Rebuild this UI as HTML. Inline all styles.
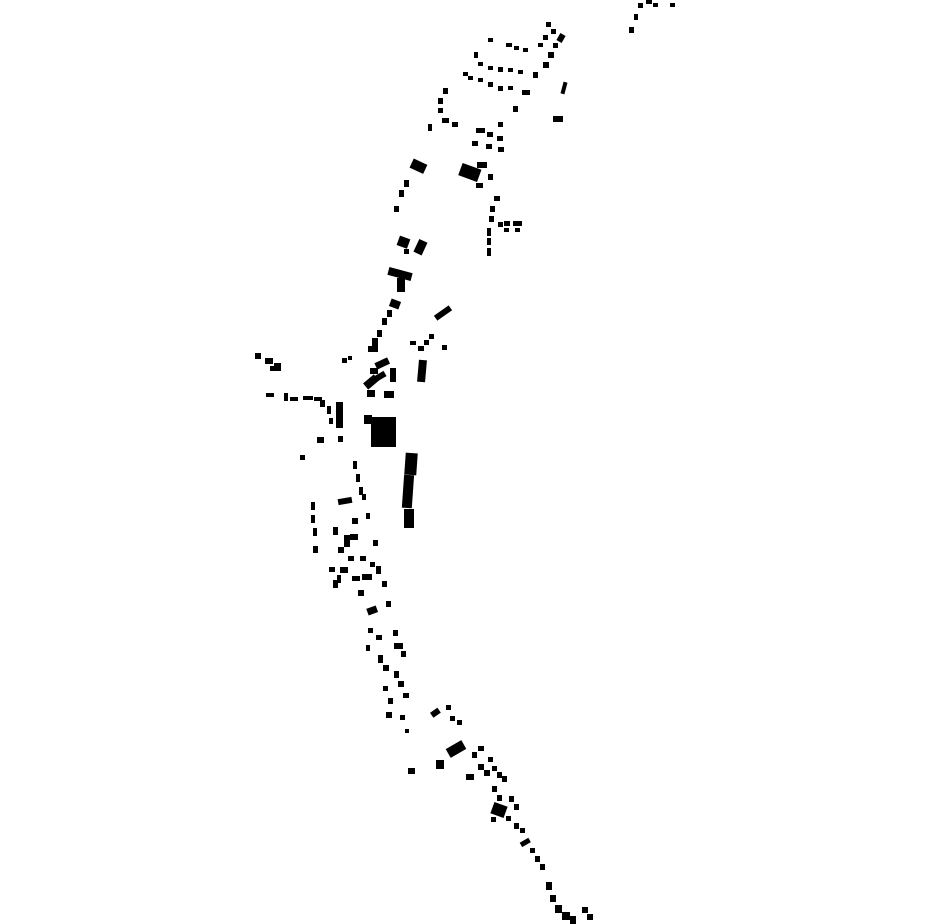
<!DOCTYPE html>
<html><head><meta charset="utf-8"><style>
html,body{margin:0;padding:0;background:#fff;width:930px;height:924px;overflow:hidden}
svg{display:block}
</style></head><body>
<svg width="930" height="924" viewBox="0 0 930 924" xmlns="http://www.w3.org/2000/svg">
<g fill="#000">
<!-- top right -->
<rect x="638" y="3" width="5" height="5"/><rect x="646" y="0" width="6" height="4"/><rect x="653" y="3" width="5" height="4"/><rect x="670" y="3" width="5" height="4"/><rect x="634" y="14" width="4" height="6"/><rect x="629" y="27" width="5" height="6"/>
<!-- north cluster -->
<rect x="546" y="22" width="5" height="5"/><rect x="551" y="29" width="5" height="5"/><rect x="543" y="35" width="5" height="5"/><rect x="558" y="34" width="6" height="8" transform="rotate(30 561 38)"/><rect x="553" y="43" width="5" height="5"/>
<rect x="488" y="38" width="5" height="4"/><rect x="506" y="43" width="6" height="4"/><rect x="514" y="46" width="5" height="4"/><rect x="523" y="48" width="5" height="4"/><rect x="538" y="43" width="5" height="4"/>
<rect x="474" y="52" width="4" height="6"/><rect x="478" y="62" width="5" height="4"/><rect x="488" y="66" width="5" height="4"/><rect x="498" y="67" width="5" height="5"/><rect x="508" y="68" width="5" height="4"/><rect x="518" y="70" width="5" height="4"/><rect x="533" y="72" width="5" height="6"/><rect x="543" y="62" width="6" height="6"/><rect x="548" y="52" width="6" height="6"/>
<rect x="463" y="72" width="5" height="4"/><rect x="468" y="76" width="5" height="4"/><rect x="478" y="78" width="5" height="4"/><rect x="488" y="82" width="5" height="5"/><rect x="498" y="86" width="5" height="5"/><rect x="508" y="86" width="5" height="4"/><rect x="522" y="90" width="8" height="5"/><rect x="562" y="82" width="4" height="12" transform="rotate(15 564 88)"/>
<rect x="443" y="88" width="5" height="6"/><rect x="438" y="98" width="5" height="6"/><rect x="438" y="108" width="5" height="5"/><rect x="442" y="118" width="7" height="5"/><rect x="452" y="122" width="6" height="5"/><rect x="428" y="124" width="4" height="7"/><rect x="513" y="106" width="5" height="6"/><rect x="553" y="116" width="10" height="6"/>
<rect x="498" y="122" width="5" height="5"/><rect x="476" y="128" width="9" height="5"/><rect x="487" y="132" width="6" height="5"/><rect x="497" y="136" width="6" height="5"/><rect x="472" y="141" width="6" height="5"/><rect x="486" y="144" width="6" height="5"/><rect x="498" y="147" width="6" height="5"/>
<rect x="411" y="161" width="15" height="10" transform="rotate(25 418 166)"/><rect x="460" y="166" width="20" height="13" transform="rotate(20 470 172)"/><rect x="477" y="162" width="10" height="6"/><rect x="488" y="174" width="5" height="6"/><rect x="476" y="183" width="7" height="5"/>
<rect x="404" y="180" width="5" height="7"/><rect x="399" y="190" width="5" height="7"/><rect x="394" y="206" width="5" height="6"/>
<rect x="494" y="196" width="6" height="5"/><rect x="490" y="206" width="5" height="6"/><rect x="489" y="216" width="5" height="6"/><rect x="498" y="222" width="5" height="5"/><rect x="504" y="221" width="6" height="5"/><rect x="513" y="221" width="9" height="5"/><rect x="504" y="228" width="5" height="4"/><rect x="515" y="228" width="5" height="4"/><rect x="487" y="228" width="4" height="8"/><rect x="487" y="238" width="4" height="7"/><rect x="487" y="248" width="4" height="8"/>
<!-- central north -->
<rect x="398" y="237" width="11" height="10" transform="rotate(20 403 242)"/><rect x="416" y="240" width="9" height="14" transform="rotate(25 420 247)"/><rect x="404" y="249" width="5" height="5"/>
<rect x="388" y="270" width="24" height="8" transform="rotate(15 400 274)"/><rect x="397" y="278" width="8" height="14"/>
<rect x="390" y="300" width="10" height="8" transform="rotate(20 395 304)"/><rect x="387" y="310" width="5" height="7"/><rect x="382" y="318" width="5" height="7"/><rect x="377" y="330" width="5" height="7"/><rect x="372" y="338" width="6" height="8"/><rect x="368" y="346" width="10" height="6"/>
<rect x="434" y="310" width="18" height="6" transform="rotate(-35 443 313)"/>
<rect x="410" y="341" width="6" height="4"/><rect x="418" y="346" width="6" height="5"/><rect x="424" y="340" width="5" height="5"/><rect x="429" y="334" width="5" height="5"/><rect x="442" y="345" width="5" height="5"/><rect x="418" y="360" width="8" height="22" transform="rotate(5 422 371)"/>
<rect x="342" y="358" width="5" height="5"/><rect x="348" y="356" width="4" height="4"/>
<rect x="255" y="353" width="6" height="6"/><rect x="265" y="358" width="8" height="6"/><rect x="274" y="363" width="7" height="8"/><rect x="270" y="366" width="5" height="5"/>
<rect x="375" y="360" width="14" height="7" transform="rotate(-25 382 363)"/><rect x="370" y="368" width="8" height="6"/><rect x="390" y="368" width="6" height="14"/><rect x="364" y="378" width="14" height="8" transform="rotate(-40 371 382)"/><rect x="372" y="374" width="14" height="6" transform="rotate(-30 379 377)"/><rect x="367" y="390" width="8" height="7"/><rect x="384" y="391" width="10" height="7"/>
<rect x="266" y="393" width="8" height="4"/><rect x="284" y="393" width="4" height="8"/><rect x="290" y="397" width="8" height="4"/><rect x="303" y="396" width="10" height="4"/><rect x="314" y="397" width="8" height="4"/><rect x="320" y="400" width="5" height="7"/><rect x="327" y="406" width="4" height="8"/><rect x="336" y="402" width="7" height="26"/><rect x="329" y="418" width="4" height="6"/><rect x="317" y="437" width="7" height="6"/><rect x="338" y="436" width="5" height="6"/><rect x="300" y="455" width="5" height="5"/>
<rect x="364" y="415" width="8" height="9"/><rect x="371" y="417" width="25" height="30"/>
<rect x="405" y="453" width="12" height="22" transform="rotate(4 411 464)"/><rect x="403" y="475" width="10" height="33" transform="rotate(4 408 491)"/><rect x="404" y="509" width="10" height="19"/>
<!-- south-central -->
<rect x="353" y="461" width="4" height="8"/><rect x="356" y="474" width="4" height="8"/><rect x="359" y="487" width="4" height="8"/><rect x="338" y="498" width="14" height="6" transform="rotate(-10 345 501)"/><rect x="362" y="494" width="4" height="6"/>
<rect x="311" y="502" width="4" height="8"/><rect x="311" y="515" width="4" height="8"/><rect x="313" y="528" width="4" height="8"/><rect x="313" y="546" width="5" height="7"/>
<rect x="333" y="527" width="5" height="8"/><rect x="352" y="518" width="6" height="6"/><rect x="366" y="513" width="4" height="6"/><rect x="344" y="535" width="6" height="12"/><rect x="350" y="534" width="8" height="6"/><rect x="373" y="540" width="5" height="6"/><rect x="338" y="547" width="6" height="6"/><rect x="348" y="556" width="6" height="5"/><rect x="360" y="556" width="6" height="5"/><rect x="370" y="562" width="5" height="5"/>
<rect x="329" y="567" width="6" height="5"/><rect x="340" y="567" width="8" height="6"/><rect x="337" y="575" width="4" height="8"/><rect x="352" y="576" width="8" height="5"/><rect x="362" y="574" width="10" height="6"/><rect x="376" y="566" width="5" height="8"/><rect x="333" y="580" width="5" height="8"/><rect x="358" y="590" width="6" height="6"/><rect x="382" y="581" width="5" height="6"/>
<rect x="367" y="607" width="10" height="7" transform="rotate(-20 372 610)"/><rect x="386" y="601" width="5" height="6"/>
<rect x="368" y="628" width="5" height="5"/><rect x="376" y="635" width="6" height="5"/><rect x="393" y="630" width="5" height="6"/><rect x="394" y="643" width="9" height="6"/><rect x="401" y="651" width="5" height="6"/><rect x="366" y="645" width="4" height="6"/><rect x="378" y="655" width="5" height="8"/><rect x="383" y="665" width="6" height="6"/><rect x="394" y="671" width="5" height="7"/><rect x="398" y="681" width="6" height="6"/><rect x="383" y="686" width="5" height="5"/><rect x="403" y="693" width="6" height="5"/><rect x="388" y="698" width="5" height="6"/><rect x="386" y="712" width="6" height="6"/><rect x="400" y="715" width="5" height="5"/><rect x="405" y="729" width="4" height="4"/>
<!-- south -->
<rect x="431" y="710" width="9" height="6" transform="rotate(-35 435 713)"/><rect x="446" y="705" width="5" height="5"/><rect x="450" y="716" width="5" height="5"/><rect x="457" y="720" width="5" height="5"/>
<rect x="447" y="744" width="18" height="10" transform="rotate(-30 456 749)"/><rect x="436" y="760" width="8" height="9"/><rect x="408" y="768" width="7" height="6"/>
<rect x="472" y="752" width="5" height="6"/><rect x="478" y="746" width="6" height="5"/><rect x="488" y="757" width="5" height="5"/><rect x="478" y="764" width="6" height="6"/><rect x="484" y="770" width="6" height="6"/><rect x="466" y="774" width="8" height="6"/><rect x="492" y="766" width="5" height="5"/><rect x="497" y="772" width="5" height="6"/><rect x="502" y="776" width="5" height="6"/><rect x="492" y="786" width="5" height="6"/><rect x="497" y="795" width="5" height="6"/>
<rect x="492" y="804" width="14" height="12" transform="rotate(20 499 810)"/><rect x="509" y="796" width="5" height="6"/><rect x="514" y="804" width="5" height="6"/><rect x="506" y="816" width="5" height="5"/><rect x="491" y="817" width="5" height="5"/><rect x="514" y="823" width="5" height="6"/><rect x="520" y="828" width="5" height="5"/><rect x="520" y="840" width="10" height="5" transform="rotate(-30 525 842)"/><rect x="530" y="848" width="5" height="5"/><rect x="535" y="856" width="5" height="6"/><rect x="540" y="864" width="5" height="6"/><rect x="546" y="882" width="6" height="8"/><rect x="550" y="895" width="6" height="7"/><rect x="555" y="905" width="7" height="8"/><rect x="562" y="912" width="8" height="8"/><rect x="570" y="916" width="6" height="8"/><rect x="582" y="907" width="6" height="6"/><rect x="587" y="914" width="6" height="6"/>
</g>
</svg>
</body></html>
